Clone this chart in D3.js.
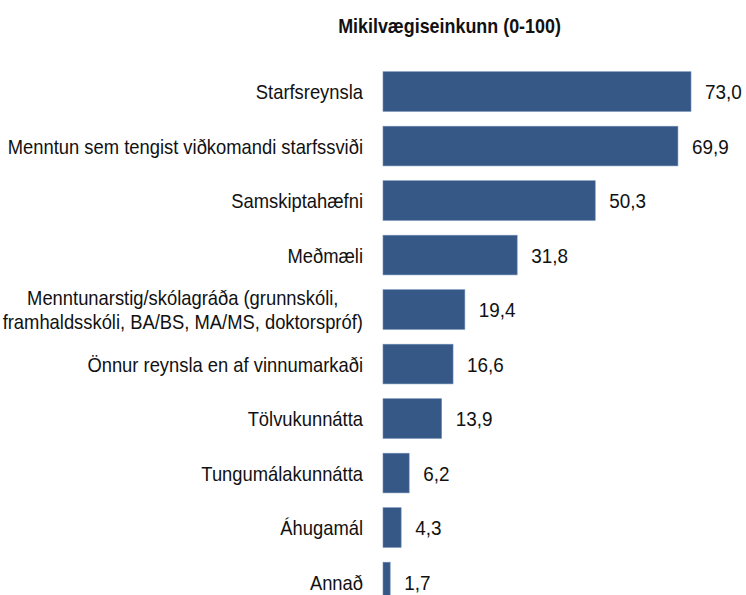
<!DOCTYPE html>
<html>
<head>
<meta charset="utf-8">
<script src="https://cdn.jsdelivr.net/npm/d3@7"></script>
<style>
  html, body { margin: 0; padding: 0; background: #fff; }
  svg { display: block; }
  text { font-family: "Liberation Sans Narrow", "Arial Narrow", "Liberation Sans", Arial, sans-serif; fill: #111; }
</style>
</head>
<body>
<svg id="chart" width="746" height="595"></svg>
<script>
const title = "Mikilvægiseinkunn (0-100)";
const categories = [
  ["Starfsreynsla"],
  ["Menntun sem tengist viðkomandi starfssviði"],
  ["Samskiptahæfni"],
  ["Meðmæli"],
  ["Menntunarstig/skólagráða (grunnskóli,", "framhaldsskóli, BA/BS, MA/MS, doktorspróf)"],
  ["Önnur reynsla en af vinnumarkaði"],
  ["Tölvukunnátta"],
  ["Tungumálakunnátta"],
  ["Áhugamál"],
  ["Annað"]
];
const values = [73.0, 69.9, 50.3, 31.8, 19.4, 16.6, 13.9, 6.2, 4.3, 1.7];
const valueLabels = ["73,0", "69,9", "50,3", "31,8", "19,4", "16,6", "13,9", "6,2", "4,3", "1,7"];

const svg = d3.select("#chart");
const keys = categories.map(c => c.join(" "));

const x = d3.scaleLinear().domain([0, 73]).range([383, 691]);
const y = d3.scaleBand().domain(keys).range([56.9, 616.7]).paddingInner(0.272).paddingOuter(0.272);

// condensed look: scale glyphs horizontally
const sxLabel = 0.875, sxValue = 0.9, sxTitle = 0.895;

svg.append("text")
  .attr("transform", `translate(449.5,33) scale(${sxTitle},1)`)
  .attr("text-anchor", "middle")
  .attr("font-weight", "bold")
  .attr("font-size", 20)
  .text(title);

svg.append("g").selectAll("rect")
  .data(values)
  .join("rect")
  .attr("x", x(0))
  .attr("y", (d, i) => y(keys[i]))
  .attr("width", d => x(d) - x(0))
  .attr("height", y.bandwidth())
  .attr("fill", "#355886")
  .attr("stroke", "#6f8db5")
  .attr("stroke-width", 0.6);

svg.append("g").selectAll("text")
  .data(values)
  .join("text")
  .attr("transform", (d, i) => `translate(${x(d) + 14},${y(keys[i]) + y.bandwidth() / 2}) scale(${sxValue},1)`)
  .attr("dy", "0.36em")
  .attr("font-size", 21)
  .text((d, i) => valueLabels[i]);

const labelRight = 363;
const lineH = 23.5;
const lg = svg.append("g");
categories.forEach((lines, i) => {
  const cy = y(keys[i]) + y.bandwidth() / 2;
  const t = lg.append("text").attr("font-size", 21);
  const spans = lines.map((l, j) => t.append("tspan")
    .attr("x", 0)
    .attr("y", (j - (lines.length - 1) / 2) * lineH)
    .attr("dy", "0.36em")
    .text(l));
  if (lines.length === 1) {
    t.attr("text-anchor", "end")
     .attr("transform", `translate(${labelRight},${cy}) scale(${sxLabel},1)`);
  } else {
    const widths = spans.map(s => s.node().getComputedTextLength());
    const maxW = Math.max(...widths) * sxLabel;
    t.attr("text-anchor", "middle")
     .attr("transform", `translate(${labelRight - maxW / 2},${cy}) scale(${sxLabel},1)`);
  }
});
</script>
</body>
</html>
